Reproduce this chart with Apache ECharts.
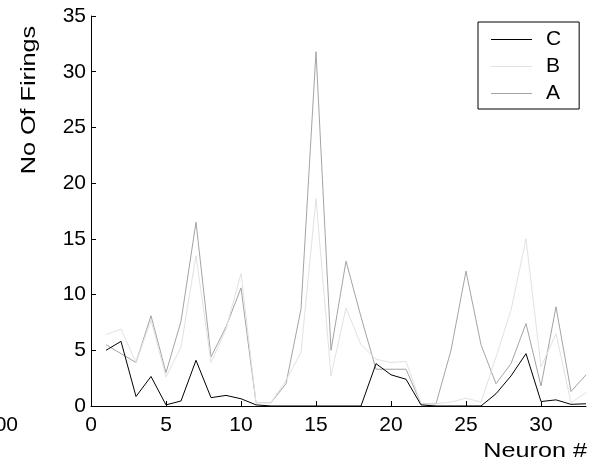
<!DOCTYPE html>
<html>
<head>
<meta charset="utf-8">
<script src="https://cdn.jsdelivr.net/npm/echarts@6/dist/echarts.min.js"></script>
<style>
  html, body { margin: 0; padding: 0; background: #fff; }
  #chart { width: 599px; height: 465px; }
</style>
</head>
<body>
<div id="chart"></div>
<script>
// neuron index 1..33
const neurons = Array.from({ length: 33 }, (_, i) => i + 1)
const seriesA = [5.5, 4.7, 3.9, 8.1, 3.0, 7.6, 16.5, 4.4, 7.1, 10.6, 0.3, 0.3, 2.0, 8.7, 31.8, 5.0, 13.0,
  8.0, 3.3, 3.3, 3.3, 0.2, 0.2, 5.0, 12.1, 5.5, 2.0, 3.8, 7.4, 1.8, 8.9, 1.3, 2.8]
const seriesB = [6.4, 6.9, 3.9, 7.7, 2.6, 5.3, 13.5, 3.9, 6.9, 11.9, 0.3, 0.3, 2.3, 4.8, 18.6, 2.7, 8.8,
  5.5, 4.2, 3.9, 4.0, 0.2, 0.2, 0.35, 0.7, 0.35, 4.4, 8.6, 15.0, 3.5, 6.5, 0.3, 1.2]
const seriesC = [5.0, 5.8, 0.85, 2.65, 0.1, 0.45, 4.1, 0.75, 0.95, 0.65, 0.1, 0, 0, 0, 0, 0, 0,
  0, 3.8, 2.8, 2.4, 0.1, 0, 0, 0, 0, 1.1, 2.7, 4.7, 0.4, 0.55, 0.15, 0.2]
const legendNames = ['C', 'B', 'A']

const FONT = '"Liberation Sans", Arial, sans-serif'
const pairs = vals => neurons.map((n, i) => [n, vals[i]])

function lineSeries(name, vals, color) {
  return {
    name,
    type: 'line',
    data: pairs(vals),
    symbol: 'none',
    lineStyle: { color, width: 1 },
    itemStyle: { color },
    emphasis: { disabled: true },
  }
}

const chart = echarts.init(document.getElementById('chart'))
chart.setOption({
  animation: false,
  backgroundColor: '#fff',
  textStyle: { fontFamily: FONT },
  grid: { left: 91, right: 13, top: 16, bottom: 59 },
  legend: {
    orient: 'vertical',
    data: legendNames,
    left: 478,
    top: 22,
    padding: [7, 18, 5, 13],
    icon: 'rect',
    itemWidth: 41,
    itemHeight: 1,
    itemGap: 6,
    borderColor: '#000',
    borderWidth: 1,
    textStyle: { fontSize: 21, lineHeight: 21, color: '#000', fontFamily: FONT, padding: [0, 0, 0, 9] },
  },
  xAxis: {
    type: 'value',
    min: 0,
    max: 33,
    interval: 5,
    axisLine: { lineStyle: { color: '#000', width: 1 } },
    axisTick: { inside: true, length: 5, lineStyle: { color: '#000' } },
    axisLabel: { color: '#000', fontSize: 21, margin: 9, showMaxLabel: false, fontFamily: FONT },
    splitLine: { show: false },
  },
  yAxis: {
    type: 'value',
    min: 0,
    max: 35,
    interval: 5,
    axisLine: { show: true, lineStyle: { color: '#000', width: 1 } },
    axisTick: { show: true, inside: true, length: 5, lineStyle: { color: '#000' } },
    axisLabel: { color: '#000', fontSize: 21, margin: 5, fontFamily: FONT },
    splitLine: { show: false },
  },
  graphic: [
    {
      type: 'text',
      x: 29, y: 100,
      rotation: Math.PI / 2,
      scaleX: 1.2,
      style: { text: 'No Of Firings', font: '21px ' + FONT, fill: '#000', align: 'center', verticalAlign: 'middle' },
    },
    {
      type: 'text',
      x: 587, y: 451,
      scaleX: 1.2,
      style: { text: 'Neuron #', font: '21px ' + FONT, fill: '#000', align: 'right', verticalAlign: 'middle' },
    },
    {
      type: 'text',
      x: 18, y: 425,
      style: { text: '00', font: '21px ' + FONT, fill: '#000', align: 'right', verticalAlign: 'middle' },
    },
  ],
  series: [
    lineSeries('A', seriesA, '#a4a4a4'),
    lineSeries('B', seriesB, '#e2e2e2'),
    lineSeries('C', seriesC, '#000'),
  ],
})
</script>
</body>
</html>
